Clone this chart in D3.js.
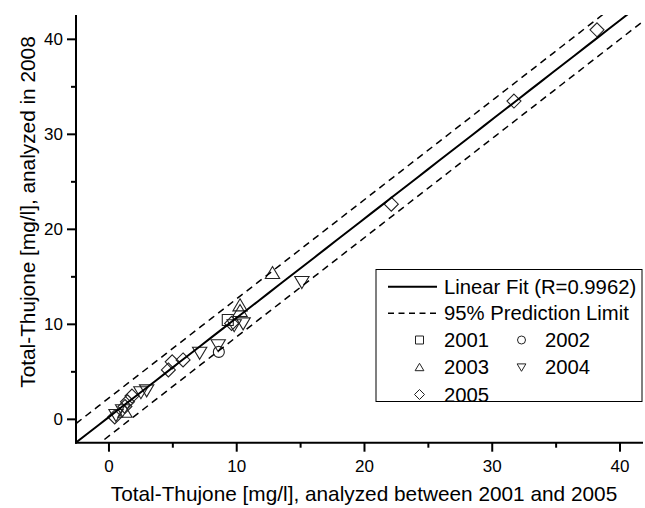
<!DOCTYPE html>
<html><head><meta charset="utf-8">
<script src="https://cdn.jsdelivr.net/npm/d3@7"></script>
<style>body{margin:0;background:#fff}svg{display:block}text{font-family:"Liberation Sans",Arial,sans-serif;fill:#000}</style>
</head><body><svg id="c" width="645" height="508"></svg>
<script>
// Data [x (2001-2005), y (2008)]
const s2001 = [[9.3,10.45]];
const s2002 = [[8.6,7.1]];
const s2003 = [[1.25,0.8],[10.26,12.0],[10.26,11.4],[12.8,15.4]];
const s2004 = [[0.55,0.45],[1.07,0.95],[2.5,2.85],[2.95,3.05],[7.1,7.0],[8.55,7.8],[9.8,9.9],[10.5,10.1],[15.1,14.45]];
const s2005 = [[0.45,0.25],[1.25,1.35],[1.45,1.85],[1.8,2.45],[4.65,5.2],[4.95,6.05],[5.8,6.25],[9.6,10.1],[22.1,22.65],[31.7,33.5],[38.2,41.0]];
const fitSlope = 1.044, fitIntercept = 0.25, predHalfWidth = 2.0;
const xTicks = [0,10,20,30,40];
const yTicks = [0,10,20,30,40];
const xDomain = [-2.58, 41.8];
const yDomain = [-2.46, 42.56];
const legendRows = ["Linear Fit (R=0.9962)","95% Prediction Limit"];
const seriesNames = ["2001","2002","2003","2004","2005"];

const svg = d3.select("#c");
const L=76, R=643, T=15, B=442.7;
const x = d3.scaleLinear().domain(xDomain).range([L,R]);
const y = d3.scaleLinear().domain(yDomain).range([B,T]);

svg.append("defs").append("clipPath").attr("id","clip")
  .append("rect").attr("x",L).attr("y",T).attr("width",R-L).attr("height",B-T);

const shapes = {
  square: s=>`M${-s},${-s}h${2*s}v${2*s}h${-2*s}Z`,
  circle: s=>`M${s},0A${s},${s} 0 1,1 ${-s},0A${s},${s} 0 1,1 ${s},0Z`,
  up: s=>`M0,${-s}L${s*1.1},${s*0.85}L${-s*1.1},${s*0.85}Z`,
  down: s=>`M0,${s}L${s*1.1},${-s*0.85}L${-s*1.1},${-s*0.85}Z`,
  diamond: s=>`M0,${-s}L${s},0L0,${s}L${-s},0Z`
};
const series = [
  {name:seriesNames[0], data:s2001, shape:"square", size:5.5},
  {name:seriesNames[1], data:s2002, shape:"circle", size:5.5},
  {name:seriesNames[2], data:s2003, shape:"up", size:6.5},
  {name:seriesNames[3], data:s2004, shape:"down", size:6.5},
  {name:seriesNames[4], data:s2005, shape:"diamond", size:7}
];

const g = svg.append("g").attr("clip-path","url(#clip)");
const xs = d3.range(xDomain[0], xDomain[1]+0.01, (xDomain[1]-xDomain[0])/50);
const line = d3.line().x(d=>x(d[0])).y(d=>y(d[1]));
series.forEach(s=>{
  g.selectAll(null).data(s.data).enter().append("path")
    .attr("d", shapes[s.shape](s.size))
    .attr("transform", d=>`translate(${x(d[0])},${y(d[1])})`)
    .attr("fill","#fff").attr("fill-opacity",0).attr("stroke","#222").attr("stroke-width",1.1);
});
g.append("path").datum(xs.map(v=>[v,fitIntercept+fitSlope*v])).attr("d",line)
  .attr("fill","none").attr("stroke","#000").attr("stroke-width",2);
[1,-1].forEach(sg=>{
  g.append("path").datum(xs.map(v=>[v,fitIntercept+fitSlope*v+sg*predHalfWidth])).attr("d",line)
    .attr("fill","none").attr("stroke","#000").attr("stroke-width",1.5).attr("stroke-dasharray","7,5");
});

// axes
const xAxis = svg.append("g").attr("transform",`translate(0,${B})`);
xAxis.append("line").attr("x1",L-1).attr("x2",R).attr("y1",0).attr("y2",0).attr("stroke","#000").attr("stroke-width",2);
d3.range(0,45,5).forEach(v=>{
  if (x(v)>R) return;
  const major = v%10===0;
  xAxis.append("line").attr("x1",x(v)).attr("x2",x(v)).attr("y1",0).attr("y2",major?9:5).attr("stroke","#000").attr("stroke-width",2);
});
xAxis.selectAll("text.t").data(xTicks).enter().append("text").attr("class","t")
  .attr("x",d=>x(d)).attr("y",29).attr("text-anchor","middle").attr("font-size",17).text(d=>d);

const yAxis = svg.append("g").attr("transform",`translate(${L},0)`);
yAxis.append("line").attr("x1",0).attr("x2",0).attr("y1",T).attr("y2",B+1).attr("stroke","#000").attr("stroke-width",2);
d3.range(0,45,5).forEach(v=>{
  if (y(v)<T) return;
  const major = v%10===0;
  yAxis.append("line").attr("x1",0).attr("x2",major?-9:-5).attr("y1",y(v)).attr("y2",y(v)).attr("stroke","#000").attr("stroke-width",2);
});
yAxis.selectAll("text.t").data(yTicks).enter().append("text").attr("class","t")
  .attr("x",-13).attr("y",d=>y(d)+6).attr("text-anchor","end").attr("font-size",17).text(d=>d);

svg.append("text").attr("x",364).attr("y",501).attr("text-anchor","middle").attr("font-size",20.8)
  .text("Total-Thujone [mg/l], analyzed between 2001 and 2005");
svg.append("text").attr("transform","translate(35,212) rotate(-90)").attr("text-anchor","middle").attr("font-size",20.8)
  .text("Total-Thujone [mg/l], analyzed in 2008");

// legend
const lg = svg.append("g");
lg.append("rect").attr("x",376).attr("y",269.5).attr("width",266).attr("height",132).attr("fill","#fff").attr("stroke","#000").attr("stroke-width",1);
const rowY = [286.7,313.3,340,367.3,394.5];
lg.append("line").attr("x1",388).attr("x2",437).attr("y1",rowY[0]).attr("y2",rowY[0]).attr("stroke","#000").attr("stroke-width",2);
lg.append("line").attr("x1",388).attr("x2",437).attr("y1",rowY[1]).attr("y2",rowY[1]).attr("stroke","#000").attr("stroke-width",1.5).attr("stroke-dasharray","6,4.5");
legendRows.forEach((t,i)=>lg.append("text").attr("x",444).attr("y",rowY[i]+7).attr("font-size",20.3).text(t));
const pos = [[0,2],[1,2],[0,3],[1,3],[0,4]];
series.forEach((s,i)=>{
  const [c,r] = pos[i];
  const sx = c===0?419.5:521.5, tx = c===0?444:545;
  lg.append("path").attr("d",shapes[s.shape](s.shape==="diamond"?5:4)).attr("transform",`translate(${sx},${rowY[r]})`)
    .attr("fill","none").attr("stroke","#222").attr("stroke-width",1);
  lg.append("text").attr("x",tx).attr("y",rowY[r]+7).attr("font-size",20.3).text(s.name);
});
</script></body></html>
